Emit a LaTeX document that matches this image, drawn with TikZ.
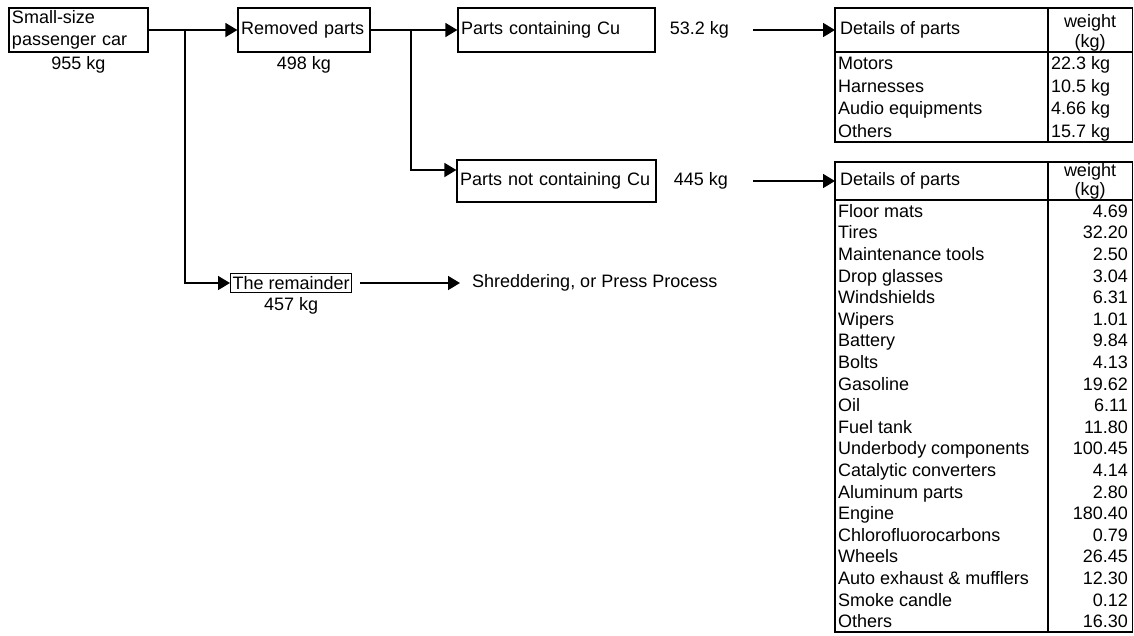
\documentclass[tikz,border=0pt]{standalone}
\usepackage{fontspec}
\setmainfont{Liberation Sans}
\usetikzlibrary{arrows.meta,positioning}

\begin{document}
\begin{tikzpicture}[x=1pt,y=-1pt,
    font=\fontsize{18}{22}\selectfont,
    box/.style={draw,line width=1.2pt,inner xsep=3pt,inner ysep=0pt,align=left,minimum height=44pt},
    kg/.style={inner sep=0pt},
    arr/.style={line width=1.6pt,-{Triangle[length=12pt,width=14pt]}},
    frame/.style={line width=1.2pt},
    cell/.style={inner sep=0pt}]
    \useasboundingbox (0,0) rectangle (1134,635);
    % flow boxes
    \node[box,text width=133pt] (car) at (78.5,30) {Small-size\\passenger car};
    \node[kg,below=4pt of car] (carkg) {955 kg};
    \node[box,text width=126pt] (removed) at (304,30) {Removed parts};
    \node[kg,below=4pt of removed] (removedkg) {498 kg};
    \node[box,text width=191pt] (cu) at (556.5,30) {Parts containing Cu};
    \node[kg,right=14pt of cu] (cukg) {53.2 kg};
    \node[box,text width=193pt,minimum height=42pt] (nocu) at (556.5,181) {Parts not containing Cu};
    \node[kg,right=17pt of nocu] (nocukg) {445 kg};
    \node[box,inner xsep=2pt,minimum height=19pt,anchor=west] (rest) at (230,283) {The remainder};
    \node[kg,below=4pt of rest] (restkg) {457 kg};
    \node[kg,anchor=west] (shred) at (472,283) {Shreddering, or Press Process};
    % table of parts containing Cu
    \draw[frame] (835,8) rectangle (1132.5,142);
    \draw[frame] (835,52) -- (1132.5,52) (1048,8) -- (1048,142);
    \node[inner xsep=5pt,inner ysep=0pt,anchor=west] (tabA) at (835,30) {Details of parts};
    \node[cell,anchor=base] at (1090,27) {weight};
    \node[cell,anchor=base] at (1090,47) {(kg)};
    \foreach \part/\wt [count=\i from 0] in {Motors/22.3 kg,Harnesses/10.5 kg,
        Audio equipments/4.66 kg,Others/15.7 kg}{
      \node[cell,anchor=base west] at (838,{69.5+22.5*\i}) {\part};
      \node[cell,anchor=base west] at (1051,{69.5+22.5*\i}) {\wt};
    }
    % table of parts not containing Cu
    \draw[frame] (835,162) rectangle (1132.5,632);
    \draw[frame] (835,200) -- (1132.5,200) (1048,162) -- (1048,632);
    \node[inner xsep=5pt,inner ysep=0pt,anchor=west] (tabB) at (835,181) {Details of parts};
    \node[cell,anchor=base] at (1090,176) {weight};
    \node[cell,anchor=base] at (1090,195) {(kg)};
    \foreach \part/\wt [count=\i from 0] in {Floor mats/4.69,Tires/32.20,
        Maintenance tools/2.50,Drop glasses/3.04,Windshields/6.31,Wipers/1.01,
        Battery/9.84,Bolts/4.13,Gasoline/19.62,Oil/6.11,Fuel tank/11.80,
        Underbody components/100.45,Catalytic converters/4.14,Aluminum parts/2.80,
        Engine/180.40,Chlorofluorocarbons/0.79,Wheels/26.45,
        Auto exhaust \& mufflers/12.30,Smoke candle/0.12,Others/16.30}{
      \node[cell,anchor=base west] at (838,{217.3+21.6*\i}) {\part};
      \node[cell,anchor=base east] at (1128,{217.3+21.6*\i}) {\wt};
    }
    % connectors
    \coordinate (split1) at (185,30);
    \coordinate (split2) at (411,30);
    \draw[arr] (car) -- (removed);
    \draw[arr] (split1) |- (rest.west);
    \draw[arr] (removed) -- (cu);
    \draw[arr] (split2) |- ([yshift=11pt]nocu.west);
    \draw[arr,shorten <=24pt] (cukg.east) -- (tabA.west);
    \draw[arr,shorten <=25pt] (nocukg.east) -- (tabB.west);
    \draw[arr,shorten <=8pt,shorten >=12pt] (rest.east) -- (shred.west);
\end{tikzpicture}
\end{document}
